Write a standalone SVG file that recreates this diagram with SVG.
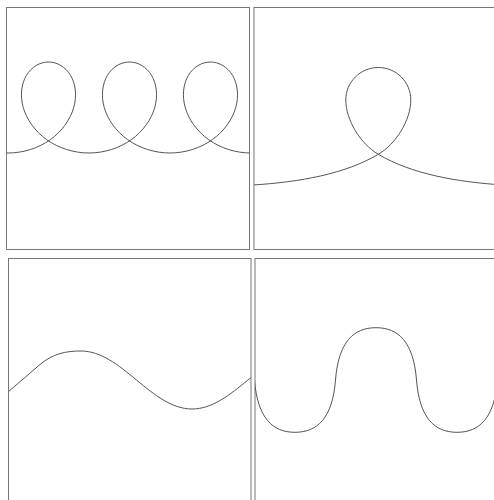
<svg xmlns="http://www.w3.org/2000/svg" width="494" height="500" viewBox="0 0 494 500">
<style>
.frame{fill:#fff;stroke:#777;stroke-width:1}
.curve{fill:none;stroke:#555;stroke-width:1}
</style>
<defs>
<clipPath id="cTL"><rect x="6.5" y="7.5" width="243" height="242"/></clipPath>
<clipPath id="cTR"><rect x="254" y="7.5" width="243" height="242"/></clipPath>
<clipPath id="cBL"><rect x="8.5" y="258.5" width="242.5" height="245"/></clipPath>
<clipPath id="cBR"><rect x="255" y="258.5" width="243" height="245"/></clipPath>
</defs>
<rect width="494" height="500" fill="#fff"/>
<g id="panel-top-left">
<rect class="frame" x="6.5" y="7.5" width="243" height="242"/>
<path class="curve" clip-path="url(#cTL)" d="M6.5,153 h1.5
c15.287,0 30.5,-4.904 42.297,-13.327 c11.797,-8.423 20.076,-20.261 23.451,-32.173 c3.375,-11.912 1.844,-23.75 -3.204,-32.173 c-5.048,-8.423 -13.512,-13.327 -22.049,-13.327 c-8.537,0 -17.001,4.904 -22.049,13.327 c-5.048,8.423 -6.578,20.261 -3.203,32.173 c3.375,11.912 11.654,23.75 23.451,32.173 c11.797,8.423 27.009,13.327 42.296,13.327
c15.287,0 30.5,-4.904 42.297,-13.327 c11.797,-8.423 20.076,-20.261 23.451,-32.173 c3.375,-11.912 1.844,-23.75 -3.204,-32.173 c-5.048,-8.423 -13.512,-13.327 -22.049,-13.327 c-8.537,0 -17.001,4.904 -22.049,13.327 c-5.048,8.423 -6.578,20.261 -3.203,32.173 c3.375,11.912 11.654,23.75 23.451,32.173 c11.797,8.423 27.009,13.327 42.296,13.327
c15.287,0 30.5,-4.904 42.297,-13.327 c11.797,-8.423 20.076,-20.261 23.451,-32.173 c3.375,-11.912 1.844,-23.75 -3.204,-32.173 c-5.048,-8.423 -13.512,-13.327 -22.049,-13.327 c-8.537,0 -17.001,4.904 -22.049,13.327 c-5.048,8.423 -6.578,20.261 -3.203,32.173 c3.375,11.912 11.654,23.75 23.451,32.173 c11.797,8.423 27.009,13.327 42.296,13.327"/>
</g>
<g id="panel-top-right">
<rect class="frame" x="254" y="7.5" width="243" height="242"/>
<path class="curve" clip-path="url(#cTR)" d="M253,185 C300,182 345,174 378.3,154.3 C396,144 410.8,120 410.8,100 C410.8,82 396.3,67.5 378.3,67.5 C360.3,67.5 345.8,82 345.8,100 C345.8,120 360.6,144 378.3,154.3 C411.6,174 456.6,182 503.6,185"/>
</g>
<g id="panel-bottom-left">
<rect class="frame" x="8.5" y="258.5" width="242.5" height="245"/>
<path class="curve" clip-path="url(#cBL)" d="M8,392 L40,364.5 C53,353.5 66,351 81,351 C101,351 118.5,365.14 136.5,380 C154.5,394.86 172,409 192,409 C212.25,409 229.74,394.86 248,380 C266.26,365.14 283.75,351 304,351"/>
</g>
<g id="panel-bottom-right">
<rect class="frame" x="255" y="258.5" width="243" height="245"/>
<path class="curve" clip-path="url(#cBR)" d="M254.5,380 c3,38 18,52.3 40.5,52.3 c22.5,0 37.5,-14.3 40.5,-52.3 c3,-38 18,-52.3 40.5,-52.3 c22.5,0 37.5,14.3 40.5,52.3 c3,38 18,52.3 40.5,52.3 c22.5,0 37.5,-14.3 40.5,-52.3"/>
</g>
</svg>
